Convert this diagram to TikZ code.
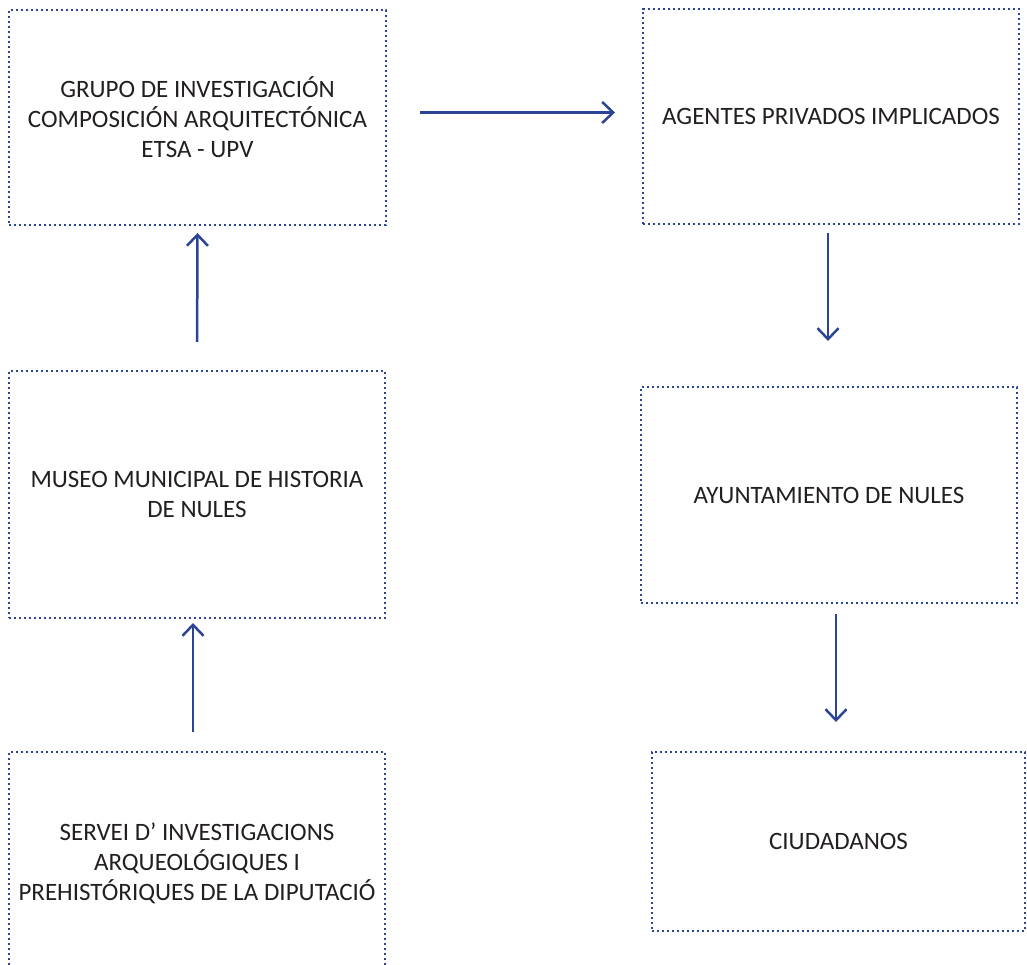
\documentclass[tikz,border=0pt]{standalone}
\usepackage{fontspec}
\setmainfont{Carlito}
\usetikzlibrary{arrows.meta}
\definecolor{boxblue}{RGB}{44,68,150}
\definecolor{textgray}{RGB}{35,31,32}

\begin{document}
\begin{tikzpicture}[x=1pt, y=-1pt,
    entity/.style={draw=boxblue, line width=2.6pt, dash pattern=on 2.4pt off 2.6pt,
        inner sep=0pt, outer sep=0pt, align=center, text=textgray,
        font=\fontsize{25}{30}\selectfont},
    link/.style={draw=boxblue, line width=2.5pt,
        -{Straight Barb[length=11pt,width=21pt]}}]
    \useasboundingbox (0,0) rectangle (1027,965);
    \clip (0,0) rectangle (1027,965);
    % Left column
    \node[entity, minimum width=377pt, minimum height=215pt] (grupo) at (197.5,117.5)
        {GRUPO DE INVESTIGACIÓN\\COMPOSICIÓN ARQUITECTÓNICA\\ETSA - UPV};
    \node[entity, minimum width=376pt, minimum height=247pt] (museo) at (197,494.5)
        {MUSEO MUNICIPAL DE HISTORIA\\DE NULES};
    \node[entity, minimum width=376pt, minimum height=222pt] (servei) at (197,863)
        {SERVEI D’ INVESTIGACIONS\\ARQUEOLÓGIQUES I\\PREHISTÓRIQUES DE LA DIPUTACIÓ};
    % Right column
    \node[entity, minimum width=376pt, minimum height=215pt] (agentes) at (831,116.5)
        {AGENTES PRIVADOS IMPLICADOS};
    \node[entity, minimum width=376pt, minimum height=216pt] (ayunt) at (829,495)
        {AYUNTAMIENTO DE NULES};
    \node[entity, minimum width=373pt, minimum height=179pt] (ciudad) at (838.5,841.5)
        {CIUDADANOS};
    % Arrows
    \draw[link, shorten <=20pt, shorten >=5pt]
        ([xshift=-4pt]servei.north) -- ([xshift=-4pt]museo.south);
    \draw[link, shorten <=29pt, shorten >=8pt] (museo.north) -- (grupo.south);
    \draw[link, shorten <=34pt, shorten >=28pt]
        ([yshift=5pt]grupo.east) -- ([yshift=5pt]grupo.east -| agentes.west);
    \draw[link, shorten <=9pt, shorten >=46pt]
        ([xshift=-3pt]agentes.south) -- ([xshift=-3pt]agentes.south |- ayunt.north);
    \draw[link, shorten <=11pt, shorten >=30pt]
        ([xshift=7pt]ayunt.south) -- ([xshift=7pt]ayunt.south |- ciudad.north);
\end{tikzpicture}
\end{document}
